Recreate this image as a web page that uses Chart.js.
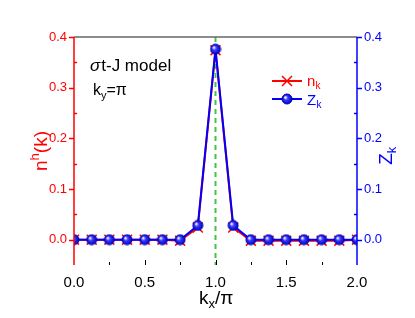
<!DOCTYPE html>
<html>
<head>
<meta charset="utf-8">
<script src="https://cdn.jsdelivr.net/npm/chart.js@4"></script>
<style>
  html, body { margin: 0; padding: 0; background: #fff; }
  #wrap { width: 415px; height: 318px; }
</style>
</head>
<body>
<div id="wrap"><canvas id="chart" width="415" height="318"></canvas></div>
<script>
const kx = [0, 0.125, 0.25, 0.375, 0.5, 0.625, 0.75, 0.875, 1.0, 1.125, 1.25, 1.375, 1.5, 1.625, 1.75, 1.875, 2.0];
const nk = [0, 0, 0, 0, 0, 0, -0.002, 0.024, 0.374, 0.024, -0.002, -0.002, -0.002, -0.002, -0.002, -0.002, 0];
const zk = [0, 0, 0, 0, 0, 0, 0, 0.028, 0.376, 0.028, 0, 0, 0, 0, 0, 0, 0];
const yTicks = [0, 0.1, 0.2, 0.3, 0.4];
const xTicks = [0, 0.5, 1.0, 1.5, 2.0];

const FONT = "'Liberation Sans', Arial, sans-serif";

function ballCanvas(r) {
  const c = document.createElement("canvas");
  c.width = c.height = r * 2 + 2;
  const g = c.getContext("2d");
  const cx = r + 1;
  const grad = g.createRadialGradient(cx - r * 0.35, cx - r * 0.35, 0.5, cx, cx, r);
  grad.addColorStop(0, "#ffffff");
  grad.addColorStop(0.35, "#3d3dff");
  grad.addColorStop(1, "#0000c8");
  g.beginPath();
  g.arc(cx, cx, r, 0, Math.PI * 2);
  g.fillStyle = grad;
  g.fill();
  g.lineWidth = 1;
  g.strokeStyle = "#0000b0";
  g.stroke();
  return c;
}
const ball = ballCanvas(5);

const decor = {
  id: "decor",
  afterDraw(chart) {
    const { ctx, chartArea: a, scales } = chart;
    const x = scales.x, y = scales.y;
    ctx.save();

    // frame
    ctx.lineWidth = 1.5;
    ctx.strokeStyle = "#666666";
    ctx.beginPath(); ctx.moveTo(a.left, a.top); ctx.lineTo(a.right, a.top); ctx.stroke();
    ctx.strokeStyle = "#ff0000";
    ctx.beginPath(); ctx.moveTo(a.left, a.top); ctx.lineTo(a.left, a.bottom); ctx.stroke();
    ctx.strokeStyle = "#0000ff";
    ctx.beginPath(); ctx.moveTo(a.right, a.top); ctx.lineTo(a.right, a.bottom); ctx.stroke();

    // y ticks
    for (let v = 0; v <= 0.4001; v += 0.05) {
      const py = Math.round(y.getPixelForValue(v)) + 0.5;
      const major = Math.abs(v * 10 - Math.round(v * 10)) < 1e-6;
      ctx.strokeStyle = "#ff0000";
      ctx.beginPath();
      if (major) { ctx.moveTo(a.left - 5, py); ctx.lineTo(a.left, py); }
      else { ctx.moveTo(a.left, py); ctx.lineTo(a.left + 3, py); }
      ctx.stroke();
      ctx.strokeStyle = "#0000ff";
      ctx.beginPath();
      if (major) { ctx.moveTo(a.right, py); ctx.lineTo(a.right + 5, py); }
      else { ctx.moveTo(a.right - 3, py); ctx.lineTo(a.right, py); }
      ctx.stroke();
    }
    // x ticks (inside)
    ctx.strokeStyle = "#000000";
    ctx.lineWidth = 1;
    for (let v = 0.25; v < 2; v += 0.25) {
      const px = Math.round(x.getPixelForValue(v)) + 0.5;
      const major = Math.abs(v * 2 - Math.round(v * 2)) < 1e-6;
      ctx.beginPath();
      ctx.moveTo(px, a.bottom);
      ctx.lineTo(px, a.bottom - (major ? 5 : 3));
      ctx.stroke();
    }

    // y tick labels
    ctx.font = "13px " + FONT;
    ctx.textBaseline = "middle";
    yTicks.forEach(v => {
      const py = y.getPixelForValue(v);
      ctx.fillStyle = "#ff0000";
      ctx.textAlign = "right";
      ctx.fillText(v.toFixed(1), a.left - 7, py);
      ctx.fillStyle = "#0000ff";
      ctx.textAlign = "left";
      ctx.fillText(v.toFixed(1), a.right + 7, py);
    });
    // x tick labels
    ctx.font = "15px " + FONT;
    ctx.fillStyle = "#000000";
    ctx.textAlign = "center";
    ctx.textBaseline = "top";
    xTicks.forEach(v => ctx.fillText(v.toFixed(1), x.getPixelForValue(v), a.bottom + 10));

    // x title k_x/π
    ctx.textAlign = "left";
    ctx.textBaseline = "alphabetic";
    ctx.font = "19px " + FONT;
    let tx = 199, ty = 304;
    ctx.fillText("k", tx, ty); tx += ctx.measureText("k").width;
    ctx.font = "13px " + FONT;
    ctx.fillText("x", tx, ty + 4); tx += ctx.measureText("x").width;
    ctx.font = "19px " + FONT;
    ctx.fillText("/π", tx, ty);

    // left title n^h(k)
    ctx.save();
    ctx.translate(47, 151);
    ctx.rotate(-Math.PI / 2);
    ctx.fillStyle = "#ff0000";
    ctx.font = "19px " + FONT;
    const w1 = ctx.measureText("n").width;
    ctx.font = "13px " + FONT;
    const w2 = ctx.measureText("h").width;
    ctx.font = "19px " + FONT;
    const w3 = ctx.measureText("(k)").width;
    let sx = -(w1 + w2 + w3) / 2;
    ctx.fillText("n", sx, 0); sx += w1;
    ctx.font = "13px " + FONT;
    ctx.fillText("h", sx, -8); sx += w2;
    ctx.font = "19px " + FONT;
    ctx.fillText("(k)", sx, 0);
    ctx.restore();

    // right title Z_k
    ctx.save();
    ctx.translate(392, 156);
    ctx.rotate(-Math.PI / 2);
    ctx.fillStyle = "#0000ff";
    ctx.font = "19px " + FONT;
    const zw = ctx.measureText("Z").width;
    ctx.fillText("Z", -zw / 2 - 3, 0);
    ctx.font = "13px " + FONT;
    ctx.fillText("k", zw / 2 - 3, 4);
    ctx.restore();

    // annotation text
    ctx.fillStyle = "#000000";
    ctx.font = "italic 17px " + FONT;
    ctx.fillText("σ", 90, 71);
    const sw = ctx.measureText("σ").width;
    ctx.font = "17px " + FONT;
    ctx.fillText("t-J model", 90 + sw + 1, 71);
    ctx.font = "16px " + FONT;
    ctx.fillText("k", 93, 95);
    const kw = ctx.measureText("k").width;
    ctx.font = "11px " + FONT;
    ctx.fillText("y", 93 + kw, 99);
    const yw = ctx.measureText("y").width;
    ctx.font = "16px " + FONT;
    ctx.fillText("=π", 93 + kw + yw, 95);

    // legend
    ctx.lineWidth = 2;
    ctx.strokeStyle = "#ff0000";
    ctx.beginPath(); ctx.moveTo(272, 81); ctx.lineTo(302, 81); ctx.stroke();
    ctx.lineWidth = 1.5;
    ctx.beginPath();
    ctx.moveTo(282, 76); ctx.lineTo(292, 86);
    ctx.moveTo(292, 76); ctx.lineTo(282, 86);
    ctx.stroke();
    ctx.lineWidth = 2;
    ctx.strokeStyle = "#0000ff";
    ctx.beginPath(); ctx.moveTo(272, 99); ctx.lineTo(302, 99); ctx.stroke();
    ctx.drawImage(ball, 287 - 6, 99 - 6);
    ctx.font = "15px " + FONT;
    ctx.fillStyle = "#ff0000";
    ctx.fillText("n", 307, 86);
    ctx.font = "10px " + FONT;
    ctx.fillText("k", 307 + 8.5, 89);
    ctx.font = "15px " + FONT;
    ctx.fillStyle = "#0000ff";
    ctx.fillText("Z", 307, 105);
    ctx.font = "10px " + FONT;
    ctx.fillText("k", 307 + 9.5, 108);

    ctx.restore();
  },
  beforeDatasetsDraw(chart) {
    const { ctx, chartArea: a, scales } = chart;
    const px = scales.x.getPixelForValue(1.0);
    ctx.save();
    ctx.strokeStyle = "#44c444";
    ctx.lineWidth = 2;
    ctx.setLineDash([5, 4]);
    ctx.beginPath();
    ctx.moveTo(px, a.top);
    ctx.lineTo(px, a.bottom);
    ctx.stroke();
    ctx.restore();
  }
};

new Chart(document.getElementById("chart"), {
  type: "line",
  data: {
    datasets: [
      {
        label: "Z_k",
        data: kx.map((v, i) => ({ x: v, y: zk[i] })),
        borderColor: "#0000ff",
        borderWidth: 2,
        pointStyle: ball,
        pointRadius: 5,
        tension: 0,
        order: 1,
      },
      {
        label: "n_k",
        data: kx.map((v, i) => ({ x: v, y: nk[i] })),
        borderColor: "#ff0000",
        borderWidth: 2,
        pointStyle: "crossRot",
        pointRadius: 7,
        pointBorderWidth: 1.5,
        pointBorderColor: "#ff0000",
        tension: 0,
        order: 2,
      },
    ],
  },
  options: {
    responsive: false,
    animation: false,
    events: [],
    layout: { padding: { top: 37, left: 0, right: 0, bottom: 0 } },
    plugins: { legend: { display: false }, tooltip: { enabled: false } },
    scales: {
      x: {
        type: "linear",
        min: 0,
        max: 2,
        grid: { display: false },
        border: { display: false },
        ticks: { display: false },
        afterFit: (s) => { s.height = 53; },
      },
      y: {
        min: -0.05,
        max: 0.4,
        grid: { display: false },
        border: { display: false },
        ticks: { display: false },
        afterFit: (s) => { s.width = 74; },
      },
      y2: {
        position: "right",
        min: -0.05,
        max: 0.4,
        grid: { display: false },
        border: { display: false },
        ticks: { display: false },
        afterFit: (s) => { s.width = 58; },
      },
    },
  },
  plugins: [decor],
});
</script>
</body>
</html>
